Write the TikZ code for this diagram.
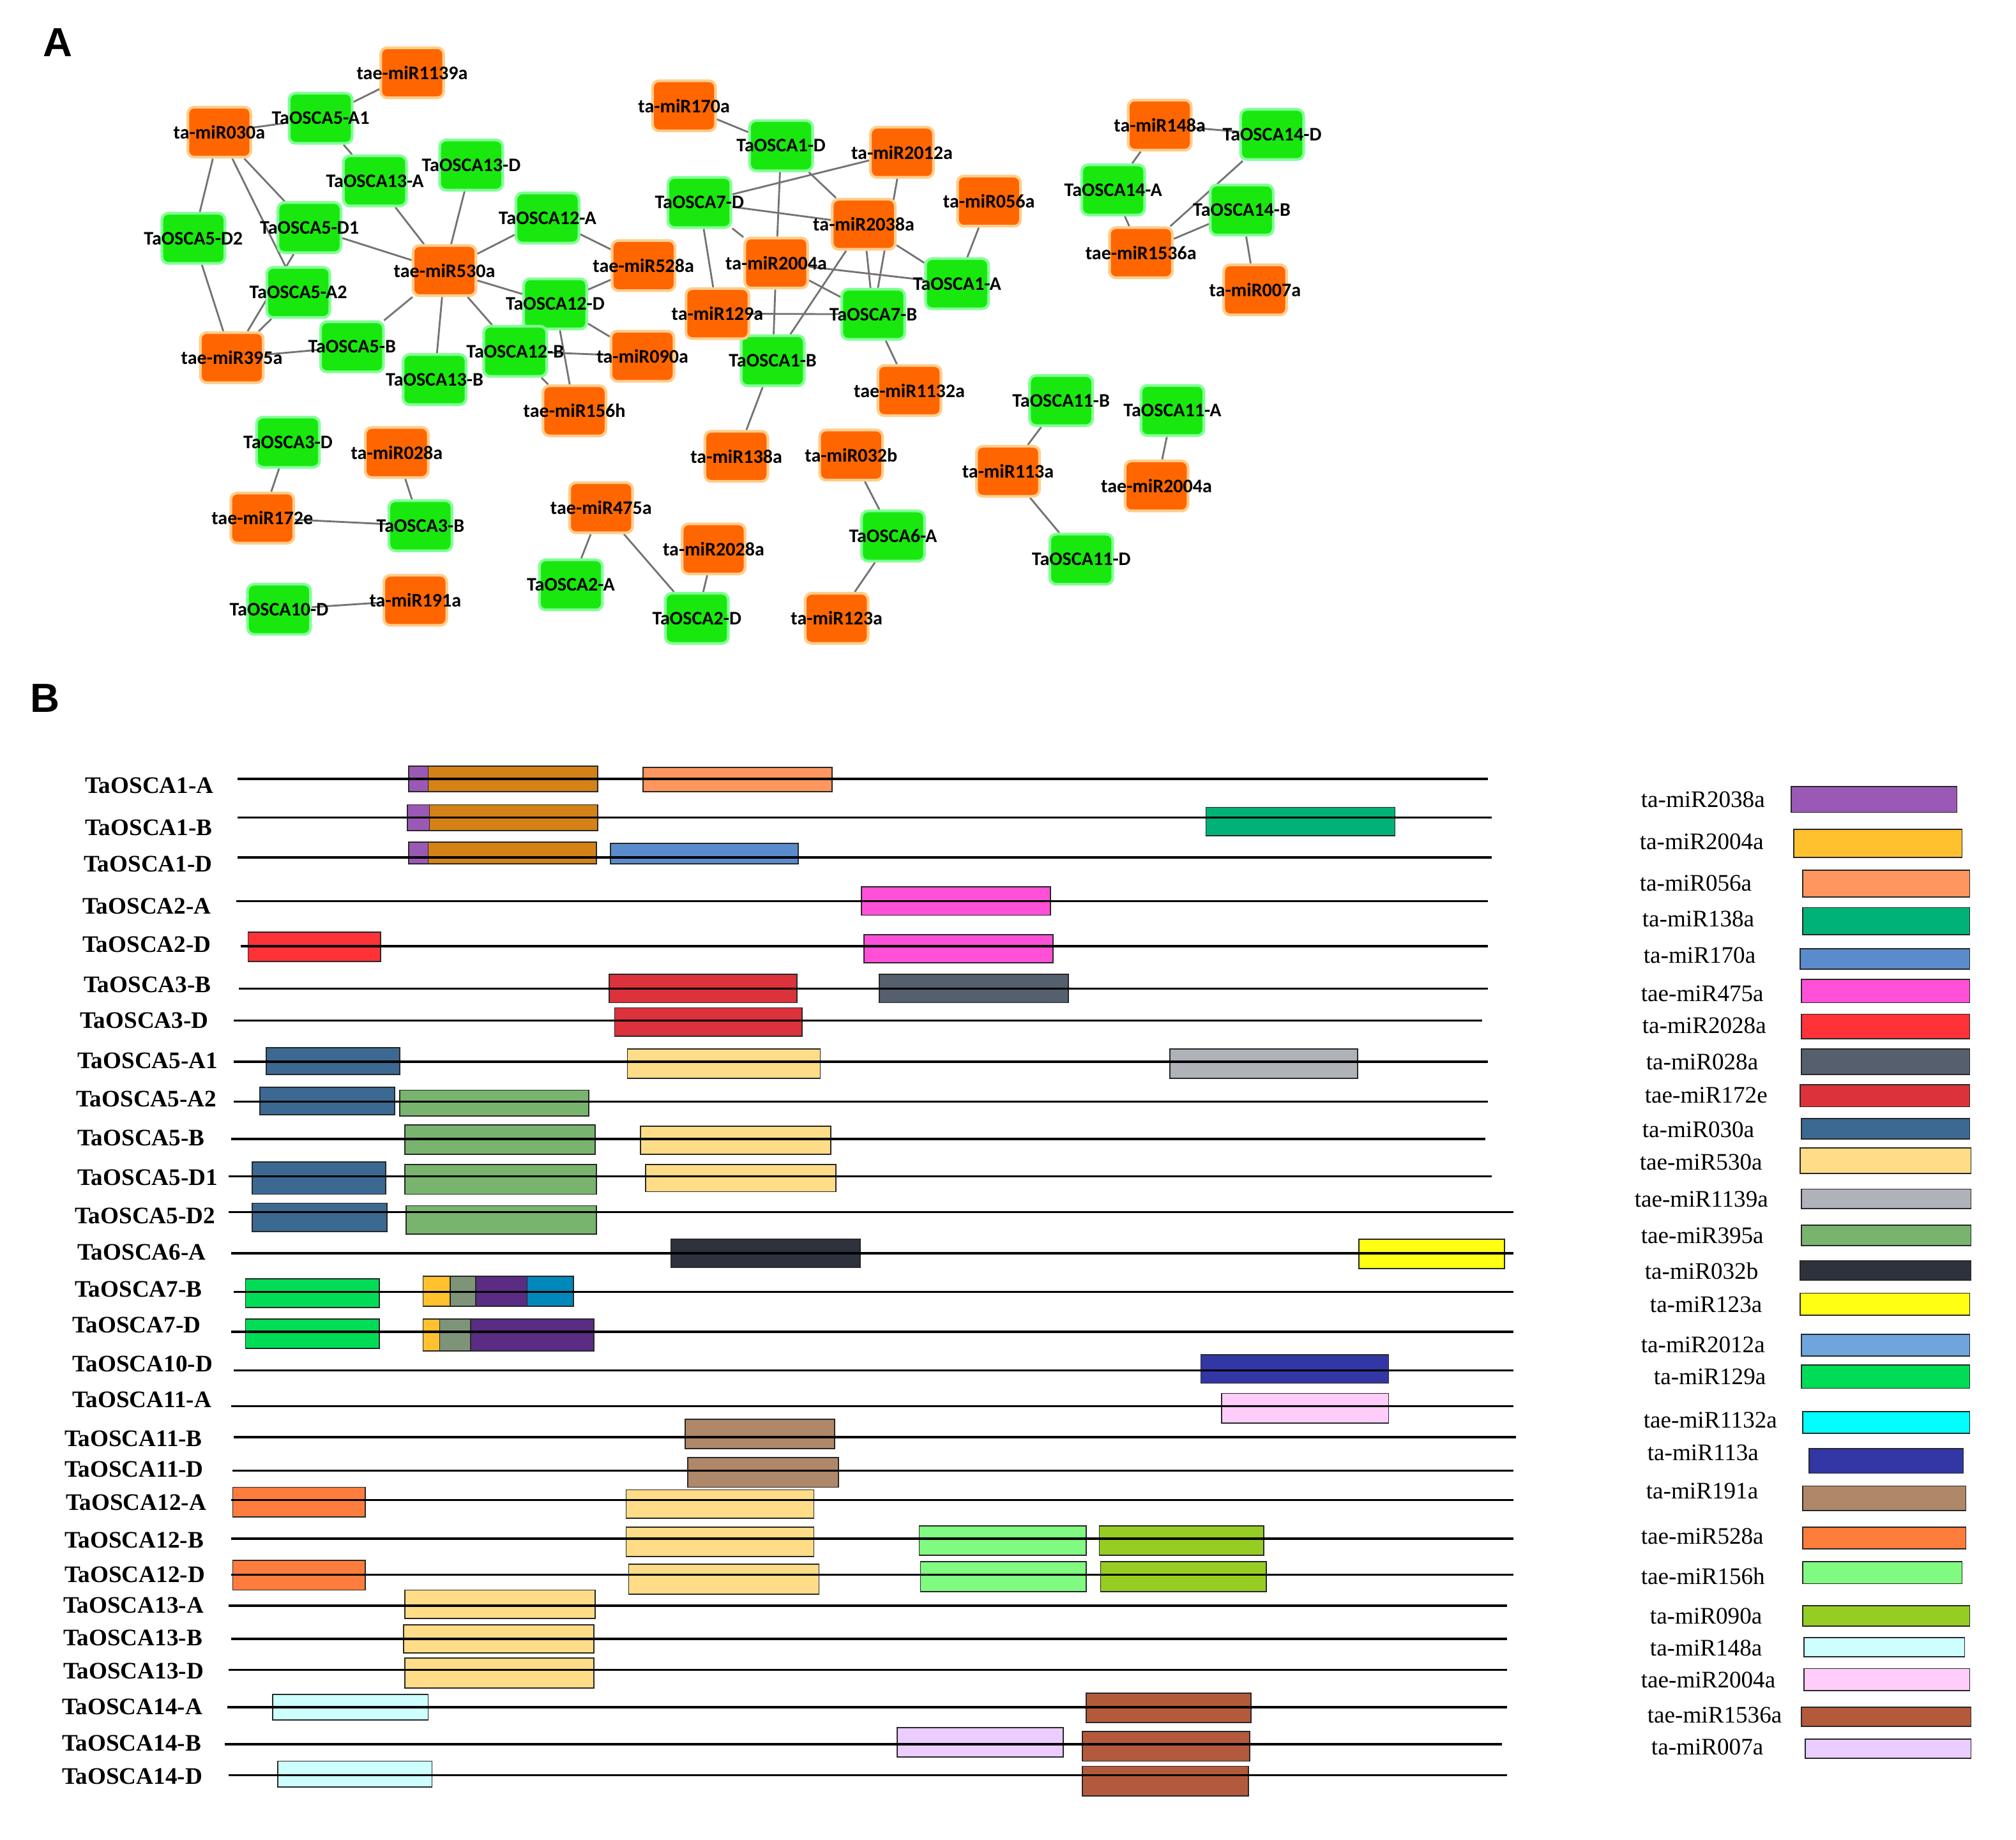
\documentclass[tikz,border=0pt]{standalone}
\usepackage{fontspec}
\setmainfont{Liberation Serif}
\newfontfamily\carl{Carlito}
\newfontfamily\arialf{Liberation Sans}
\pgfdeclarelayer{back}
\pgfdeclarelayer{bg}
\pgfdeclarelayer{mid}
\pgfsetlayers{back,bg,mid,main}
\definecolor{ngreen}{RGB}{25,232,15}
\definecolor{ngreenb}{RGB}{130,255,150}
\definecolor{norange}{RGB}{255,102,0}
\definecolor{norangeb}{RGB}{255,205,140}
\definecolor{edgegray}{RGB}{115,115,115}
\definecolor{c2038}{RGB}{155,89,182}
\definecolor{c2004}{RGB}{255,193,46}
\definecolor{cOr}{RGB}{212,130,22}
\definecolor{c056}{RGB}{255,150,95}
\definecolor{c138}{RGB}{0,178,120}
\definecolor{c170}{RGB}{90,140,205}
\definecolor{c475}{RGB}{255,80,215}
\definecolor{c2028}{RGB}{255,50,55}
\definecolor{c028}{RGB}{85,95,110}
\definecolor{c172}{RGB}{220,50,60}
\definecolor{c030}{RGB}{60,105,145}
\definecolor{c530}{RGB}{255,220,135}
\definecolor{c1139}{RGB}{175,178,185}
\definecolor{c395}{RGB}{120,180,110}
\definecolor{c032}{RGB}{45,50,60}
\definecolor{c123}{RGB}{255,255,20}
\definecolor{c2012}{RGB}{110,165,220}
\definecolor{c129}{RGB}{0,220,85}
\definecolor{c1132}{RGB}{0,255,255}
\definecolor{c113}{RGB}{50,55,165}
\definecolor{c191}{RGB}{175,135,105}
\definecolor{c528}{RGB}{255,125,60}
\definecolor{c156}{RGB}{128,250,128}
\definecolor{c090}{RGB}{150,205,35}
\definecolor{c148}{RGB}{205,255,255}
\definecolor{ct2004}{RGB}{255,205,250}
\definecolor{c1536}{RGB}{180,90,60}
\definecolor{c007}{RGB}{235,205,255}
\definecolor{cGG}{RGB}{125,148,121}
\definecolor{cDP}{RGB}{91,44,131}
\definecolor{cTB}{RGB}{0,136,187}
\definecolor{barbord}{RGB}{40,40,40}
\tikzset{
  gbox/.style={rectangle, rounded corners=0.1cm, minimum width=0.98cm, minimum height=0.78cm, inner sep=0pt, fill=ngreen, draw=ngreenb, line width=1.2pt},
  obox/.style={rectangle, rounded corners=0.1cm, minimum width=0.98cm, minimum height=0.78cm, inner sep=0pt, fill=norange, draw=norangeb, line width=1.2pt},
  nlbl/.style={font=\carl\bfseries\fontsize{8.5}{9}\selectfont, inner sep=0pt, text=black},
  lnk/.style={draw=edgegray, line width=0.8pt},
  rowlbl/.style={font=\bfseries\fontsize{10.5}{11}\selectfont, anchor=west, inner sep=0pt},
  leglbl/.style={font=\fontsize{10.5}{11}\selectfont, anchor=west, inner sep=0pt},
  gline/.style={line width=1pt, draw=black},
  barb/.style={draw=barbord, line width=0.5pt},
  panel/.style={font=\arialf\bfseries\fontsize{18}{20}\selectfont, inner sep=0pt},
}
\newcommand\hb[5]{\draw[barb,fill=#5] (#1,#3) rectangle (#2,#4);}
\begin{document}
\begin{tikzpicture}[x=0.02cm,y=-0.02cm]
\begin{pgfonlayer}{back}
\fill[white] (0,0) rectangle (1568,1431);
\end{pgfonlayer}
\useasboundingbox (0,0) rectangle (1568,1431);
\node[panel] (pA) at (45,33) {A};
\node[panel] (pB) at (35,543) {B};
% ---------- Panel A: green nodes
\foreach \n/\x/\y/\lab in {
 g5a1/249.4/92/TaOSCA5-A1, g13a/291.6/140.7/TaOSCA13-A, g13d/366.5/128.4/TaOSCA13-D,
 g5d2/150.4/185.4/TaOSCA5-D2, g5d1/240.7/177.1/TaOSCA5-D1, g12a/425.8/169.6/TaOSCA12-A,
 g5a2/232/227.5/TaOSCA5-A2, g12d/431.8/236.4/TaOSCA12-D, g5b/273.8/269.8/TaOSCA5-B,
 g12b/400.7/273.3/TaOSCA12-B, g13b/338/295.3/TaOSCA13-B,
 g1d/607.5/113.3/TaOSCA1-D, g7d/544/157.5/TaOSCA7-D, g1a/744.4/220.7/TaOSCA1-A,
 g7b/679.2/244.5/TaOSCA7-B, g1b/601/280.6/TaOSCA1-B, g6a/694.6/417/TaOSCA6-A,
 g14d/989.4/104.6/TaOSCA14-D, g14a/865.8/147.7/TaOSCA14-A, g14b/965.8/163.4/TaOSCA14-B,
 g11b/825.3/311.6/TaOSCA11-B, g11a/911.9/319.3/TaOSCA11-A, g11d/841/435/TaOSCA11-D,
 g3d/224/344/TaOSCA3-D, g3b/327/409/TaOSCA3-B, g10d/217/474/TaOSCA10-D,
 g2a/444/455/TaOSCA2-A, g2d/542/481/TaOSCA2-D}
{
 \begin{pgfonlayer}{mid}\node[gbox] (\n) at (\x,\y) {};\end{pgfonlayer}
 \node[nlbl] (\n t) at (\x,\y) {\lab};
}
% ---------- Panel A: orange nodes
\foreach \n/\x/\y/\lab in {
 o1139/320.6/56.6/tae-miR1139a, o030/170.6/102.8/ta-miR030a, o530/345.7/210.5/tae-miR530a,
 o528/500.5/206.6/tae-miR528a, o395/180.3/278.2/tae-miR395a, o090/499.7/277.1/ta-miR090a,
 o156/446.8/319.6/tae-miR156h,
 o170/532/82.3/ta-miR170a, o2012/701.5/118.5/ta-miR2012a, o056/769.2/156.5/ta-miR056a,
 o2038/671.8/174.5/ta-miR2038a, o2004/603.7/204.6/ta-miR2004a, o129/558/244/ta-miR129a,
 o1132/707.3/303.8/tae-miR1132a, o138/572.7/355/ta-miR138a, o032/662/354/ta-miR032b,
 o123/650.7/481/ta-miR123a,
 o148/902/97.3/ta-miR148a, o1536/887.4/196.6/tae-miR1536a, o007/976.2/225.5/ta-miR007a,
 o113/784/366.6/ta-miR113a, ot2004/899.5/378/tae-miR2004a,
 o028/308.6/352/ta-miR028a, o172/204/403/tae-miR172e, o191/323/467/ta-miR191a,
 o475/467.5/395/tae-miR475a, o2028/555/427/ta-miR2028a}
{
 \begin{pgfonlayer}{mid}\node[obox] (\n) at (\x,\y) {};\end{pgfonlayer}
 \node[nlbl] (\n t) at (\x,\y) {\lab};
}
% ---------- Panel A: edges
\begin{pgfonlayer}{bg}
\foreach \a/\b in {
 o1139/g5a1, o030/g5a1, o030/g5d2, o030/g5d1, o030/g5a2, g5a1/g13a, g13a/o530, g13d/o530,
 g5d1/o530, g5d1/o395, g5a2/o395, g5d2/o395, o395/g5b, g5b/o530, o530/g13b, o530/g12a,
 o530/g12d, o530/g12b, g12a/o528, o528/g12d, g12d/o090, g12d/o156, g12b/o090, g12b/o156,
 o170/g1d, g1d/o2038, g1d/o2004, o2004/g1b, o2012/g7d, o2012/g7b, g7d/o2038, g7d/o2004,
 g7d/o129, o2038/g1a, o2038/g1b, o2038/g7b, o2004/g1a, o2004/g7b, o129/g7b, o056/g1a,
 g7b/o1132, g1b/o138, o032/g6a, g6a/o123,
 o148/g14d, o148/g14a, g14a/o1536, g14d/o1536, g14b/o1536, g14b/o007,
 g11b/o113, o113/g11d, g11a/ot2004,
 g3d/o172, o028/g3b, o172/g3b, g10d/o191, o475/g2a, o475/g2d, o2028/g2d}
 {\draw[lnk] (\a) -- (\b);}
\end{pgfonlayer}
% ---------- Panel B: bars
\hb{318}{333}{596}{616}{c2038}\hb{333}{465}{596}{616}{cOr}\hb{500}{647}{597}{616}{c056}
\hb{317}{334}{626}{646}{c2038}\hb{334}{465}{626}{646}{cOr}\hb{938}{1085}{628}{650}{c138}
\hb{318}{333}{655}{672}{c2038}\hb{333}{464}{655}{672}{cOr}\hb{475}{621}{656}{672}{c170}
\hb{670}{817}{690}{712}{c475}
\hb{193}{296}{725}{748}{c2028}\hb{672}{819}{727}{749}{c475}
\hb{474}{620}{758}{780}{c172}\hb{684}{831}{758}{780}{c028}
\hb{478}{624}{784}{806}{c172}
\hb{207}{311}{815}{836}{c030}\hb{488}{638}{816}{839}{c530}\hb{910}{1056}{816}{839}{c1139}
\hb{202}{307}{846}{867}{c030}\hb{311}{458}{848}{868}{c395}
\hb{315}{463}{875}{898}{c395}\hb{498}{646}{876}{898}{c530}
\hb{196}{300}{904}{929}{c030}\hb{315}{464}{906}{929}{c395}\hb{502}{650}{906}{927}{c530}
\hb{196}{301}{936}{958}{c030}\hb{316}{464}{938}{960}{c395}
\hb{522}{669}{964}{986}{c032}\hb{1057}{1170}{964}{987}{c123}
\hb{191}{295}{995}{1017}{c129}\hb{329}{350}{993}{1016}{c2004}\hb{350}{370}{993}{1016}{cGG}\hb{370}{410}{993}{1016}{cDP}\hb{410}{446}{993}{1016}{cTB}
\hb{191}{295}{1026}{1049}{c129}\hb{329}{342}{1026}{1051}{c2004}\hb{342}{366}{1026}{1051}{cGG}\hb{366}{462}{1026}{1051}{cDP}
\hb{934}{1080}{1054}{1076}{c113}
\hb{950}{1080}{1084}{1107}{ct2004}
\hb{533}{649}{1104}{1127}{c191}
\hb{535}{652}{1134}{1157}{c191}
\hb{181}{284}{1157}{1180}{c528}\hb{487}{633}{1159}{1181}{c530}
\hb{487}{633}{1188}{1211}{c530}\hb{715}{845}{1187}{1210}{c156}\hb{855}{983}{1187}{1210}{c090}
\hb{181}{284}{1214}{1237}{c528}\hb{489}{637}{1217}{1240}{c530}\hb{716}{845}{1215}{1238}{c156}\hb{856}{985}{1215}{1238}{c090}
\hb{315}{463}{1237}{1259}{c530}
\hb{314}{462}{1264}{1286}{c530}
\hb{315}{462}{1290}{1313}{c530}
\hb{212}{333}{1318}{1338}{c148}\hb{845}{973}{1317}{1340}{c1536}
\hb{698}{827}{1344}{1367}{c007}\hb{842}{972}{1347}{1370}{c1536}
\hb{216}{336}{1370}{1390}{c148}\hb{842}{971}{1374}{1397}{c1536}
% ---------- Panel B: gene lines and labels
\foreach \i/\lab/\lx/\ly/\yy/\xa/\xb in {
 1/TaOSCA1-A/66/611/606/185/1157, 2/TaOSCA1-B/66/644/636/185/1160,
 3/TaOSCA1-D/65/672/667/185/1160, 4/TaOSCA2-A/64/705/701/184/1157,
 5/TaOSCA2-D/64/735/736/187/1157, 6/TaOSCA3-B/65/766/769/186/1157,
 7/TaOSCA3-D/62/794/794/182/1153, 8/TaOSCA5-A1/60/825/826/182/1157,
 9/TaOSCA5-A2/59/855/857/182/1157, 10/TaOSCA5-B/60/885/886/180/1155,
 11/TaOSCA5-D1/60/916/915/178/1160, 12/TaOSCA5-D2/58/946/943/178/1177,
 13/TaOSCA6-A/60/974/975/180/1177, 14/TaOSCA7-B/58/1003/1005/182/1177,
 15/TaOSCA7-D/56/1031/1036/180/1177, 16/TaOSCA10-D/56/1061/1066/182/1177,
 17/TaOSCA11-A/56/1089/1094/180/1177, 18/TaOSCA11-B/50/1119/1118/182/1179,
 19/TaOSCA11-D/50/1143/1144/181/1177, 20/TaOSCA12-A/51/1169/1167/180/1177,
 21/TaOSCA12-B/50/1198/1197/180/1177, 22/TaOSCA12-D/50/1225/1225/180/1177,
 23/TaOSCA13-A/49/1249/1249/178/1172, 24/TaOSCA13-B/49/1274/1275/180/1172,
 25/TaOSCA13-D/49/1300/1299/178/1172, 26/TaOSCA14-A/48/1328/1328/177/1172,
 27/TaOSCA14-B/48/1356/1357/175/1168, 28/TaOSCA14-D/48/1382/1381/178/1172}
{
 \node[rowlbl] (r\i) at (\lx,\ly) {\lab};
 \draw[gline] (\xa,\yy) -- (\xb,\yy);
}
% ---------- Legend
\foreach \i/\lab/\lx/\ly/\xa/\xb/\ya/\yb/\c in {
 1/ta-miR2038a/1276/622/1393/1522/612/632/c2038,
 2/ta-miR2004a/1275/655/1395/1526/645/667/c2004,
 3/ta-miR056a/1275/687/1402/1532/677/698/c056,
 4/ta-miR138a/1277/715/1402/1532/706/727/c138,
 5/ta-miR170a/1278/743/1400/1532/738/754/c170,
 6/tae-miR475a/1276/773/1401/1532/762/780/c475,
 7/ta-miR2028a/1277/798/1401/1532/789/808/c2028,
 8/ta-miR028a/1280/826/1401/1532/816/836/c028,
 9/tae-miR172e/1279/852/1400/1532/844/861/c172,
 10/ta-miR030a/1277/879/1401/1532/870/886/c030,
 11/tae-miR530a/1275/904/1400/1533/893/913/c530,
 12/tae-miR1139a/1271/933/1401/1533/925/940/c1139,
 13/tae-miR395a/1276/961/1401/1533/953/969/c395,
 14/ta-miR032b/1279/989/1400/1533/981/996/c032,
 15/ta-miR123a/1283/1015/1400/1532/1006/1023/c123,
 16/ta-miR2012a/1276/1046/1401/1532/1038/1055/c2012,
 17/ta-miR129a/1286/1071/1401/1532/1062/1080/c129,
 18/tae-miR1132a/1278/1105/1402/1532/1098/1115/c1132,
 19/ta-miR113a/1281/1130/1407/1527/1127/1146/c113,
 20/ta-miR191a/1280/1160/1402/1529/1156/1175/c191,
 21/tae-miR528a/1276/1195/1402/1529/1188/1205/c528,
 22/tae-miR156h/1276/1226/1402/1526/1215/1232/c156,
 23/ta-miR090a/1283/1257/1402/1532/1249/1265/c090,
 24/ta-miR148a/1283/1282/1403/1528/1274/1289/c148,
 25/tae-miR2004a/1276/1307/1403/1532/1298/1315/ct2004,
 26/tae-miR1536a/1281/1334/1401/1533/1328/1343/c1536,
 27/ta-miR007a/1284/1359/1404/1533/1353/1368/c007}
{
 \node[leglbl] (l\i) at (\lx,\ly) {\lab};
 \hb{\xa}{\xb}{\ya}{\yb}{\c}
}
\end{tikzpicture}
\end{document}
